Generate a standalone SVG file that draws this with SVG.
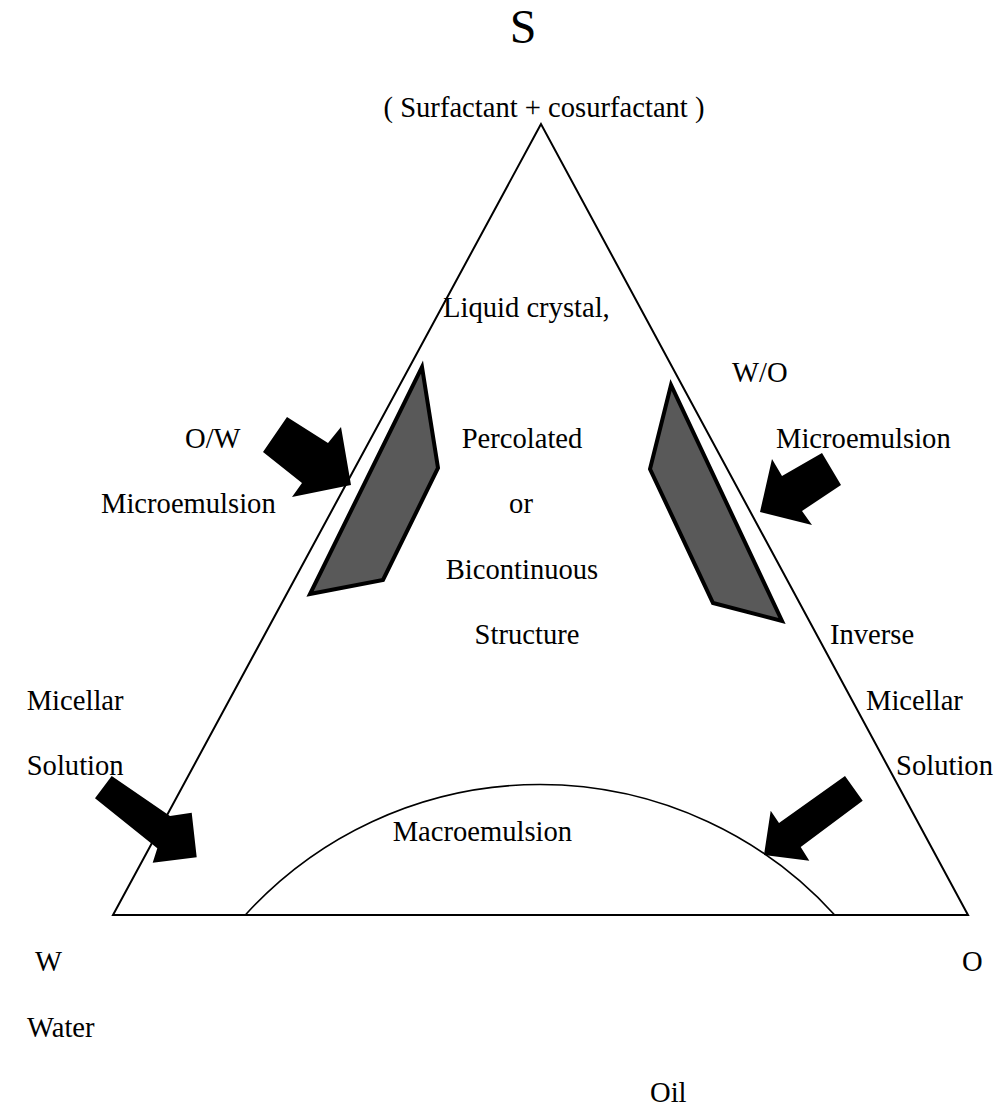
<svg xmlns="http://www.w3.org/2000/svg" width="999" height="1110" viewBox="0 0 999 1110">
<style>
text{font-family:"Liberation Serif","Times New Roman",serif;font-size:28.6px;fill:#000}
.big{font-size:48px}
.mid{text-anchor:middle}
.edge{fill:none;stroke:#000;stroke-width:2}
.arc{fill:none;stroke:#000;stroke-width:1.6}
.region{fill:#595959;stroke:#000;stroke-width:4;stroke-linejoin:miter}
.arrow{fill:#000;stroke:none}
</style>
<rect width="999" height="1110" fill="#fff"/>
<g id="diagram">
<polygon id="triangle" class="edge" points="541,124 113,915 968,915"/>
<path id="macroemulsion-boundary" class="arc" d="M245.3,915 A398,398 0 0 1 834.7,915"/>
</g>
<g id="ow-region"><polygon class="region" points="422,367 438,468 383,580 310,594"/></g>
<g id="wo-region"><polygon class="region" points="671,385 650,469 713,603 782,621"/></g>
<g id="connectors">
<polygon class="arrow" points="287,417 328,443 341,427 351,485 292,497 302,483 263,452"/>
<polygon class="arrow" points="760,512 772,459 782,476 822,453 841,485 802,511 812,525"/>
<polygon class="arrow" points="111.7,776 170,816 191.7,812.7 196.7,857.3 152.7,862.7 157.3,848.3 95,798.3"/>
<polygon class="arrow" points="764,855 770.7,810.7 779,823 845,776 862.7,800.7 800.7,847 809.3,860.7"/>
</g>
<g id="labels">
<text class="big mid" x="523" y="43">S</text>
<text class="mid" x="544" y="117">( Surfactant + cosurfactant )</text>
<text x="443" y="316.5">Liquid crystal,</text>
<text x="732" y="382">W/O</text>
<text x="185" y="447.5">O/W</text>
<text x="461.7" y="447.5">Percolated</text>
<text x="776" y="447.5">Microemulsion</text>
<text x="101" y="513">Microemulsion</text>
<text class="mid" x="521" y="513">or</text>
<text class="mid" x="522" y="578.5">Bicontinuous</text>
<text class="mid" x="527" y="644">Structure</text>
<text x="830" y="644">Inverse</text>
<text x="26.7" y="709.5">Micellar</text>
<text x="866" y="709.5">Micellar</text>
<text x="26.7" y="775">Solution</text>
<text x="896" y="775">Solution</text>
<text x="392.7" y="840.5">Macroemulsion</text>
<text x="35" y="971">W</text>
<text x="962" y="971">O</text>
<text x="27" y="1036.5">Water</text>
<text x="650" y="1102">Oil</text>
</g>
</svg>
